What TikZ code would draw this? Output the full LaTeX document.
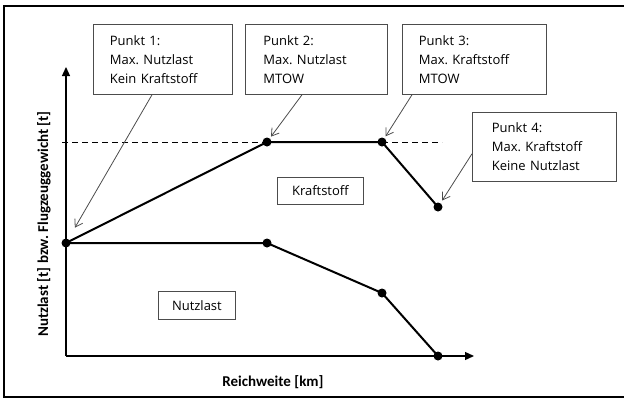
\documentclass[tikz,border=0pt]{standalone}
\usepackage{fontspec}
\setmainfont{Open Sans}
\newfontfamily\lblfont{Carlito}
\usetikzlibrary{arrows.meta,calc}
\frenchspacing
\begin{document}
\begin{tikzpicture}[x=1pt,y=-1pt,
 pbox/.style={draw=black!70, fill=white, line width=0.8pt, align=left, anchor=north west,
   inner xsep=0pt, inner ysep=0pt, font=\fontsize{13}{19}\selectfont},
 lbox/.style={draw=black!70, fill=white, line width=0.8pt, anchor=north west,
   inner sep=0pt, font=\fontsize{13}{19}\selectfont},
 dotnode/.style={circle, fill=black, inner sep=0pt, minimum size=9pt},
 curve/.style={line width=2pt},
 callout/.style={draw=black!70, line width=0.8pt, -{Straight Barb[length=7pt,width=9pt]}},
 axis/.style={line width=1.3pt, -{Triangle[length=9pt,width=8pt]}},
 axlabel/.style={font=\lblfont\bfseries\fontsize{15}{18}\selectfont},
 ]
\useasboundingbox (0,0) rectangle (624,399);
\draw[line width=1.5pt] (630,6) -- (4,6) -- (4,397) -- (630,397);

% axes
\coordinate (O) at (66,356);
\coordinate (ytop) at (66,67);
\coordinate (xend) at (474,356);
\draw[axis] (O) -- (ytop);
\draw[axis] (O) -- (xend);
\node[axlabel, rotate=90] (ylab) at (44,224) {Nutzlast [t] bzw. Flugzeuggewicht [t]};
\node[axlabel] (xlab) at (273,382) {Reichweite [km]};

% dashed MTOW line
\coordinate (dA) at (62,142);
\coordinate (dB) at (442,142);
\draw[dashed, dash pattern=on 6pt off 4pt, line width=0.9pt] (dA) -- (dB);

% points
\node[dotnode] (d1) at (66,243) {};
\node[dotnode] (d2) at (267,142) {};
\node[dotnode] (d3) at (382,142) {};
\node[dotnode] (d4) at (438,207) {};
\node[dotnode] (l2) at (267,243) {};
\node[dotnode] (l3) at (382,293) {};
\node[dotnode] (l4) at (438,356) {};

\draw[curve] (d1.center) -- (d2.center) -- (d3.center) -- (d4.center);
\draw[curve] (d1.center) -- (l2.center) -- (l3.center) -- (l4.center);

% boxes
\node[pbox, minimum width=139pt, minimum height=70pt, text width=128pt] (b1) at (93,24)
  {\hspace*{11pt}Punkt 1:\\\hspace*{11pt}Max. Nutzlast\\\hspace*{11pt}Kein Kraftstoff};
\node[pbox, minimum width=142pt, minimum height=70pt, text width=130pt] (b2) at (245,24)
  {\hspace*{12pt}Punkt 2:\\\hspace*{12pt}Max. Nutzlast\\\hspace*{12pt}MTOW};
\node[pbox, minimum width=144pt, minimum height=70pt, text width=133pt] (b3) at (402,24)
  {\hspace*{11pt}Punkt 3:\\\hspace*{11pt}Max. Kraftstoff\\\hspace*{11pt}MTOW};
\node[pbox, minimum width=144pt, minimum height=69pt, text width=131pt] (b4) at (472,112)
  {\hspace*{13pt}Punkt 4:\\\hspace*{13pt}Max. Kraftstoff\\\hspace*{13pt}Keine Nutzlast};
\node[lbox, minimum width=86pt, minimum height=27pt] (kr) at (277,177) {Kraftstoff};
\node[lbox, minimum width=77pt, minimum height=28pt] (nl) at (158,291) {Nutzlast};

% callouts
\draw[callout, shorten >=13pt] ($(b1.south west)+(59,0)$) -- (d1);
\draw[callout, shorten >=2pt] ($(b2.south west)+(57,0)$) -- (d2);
\draw[callout, shorten >=2pt] ($(b3.south west)+(10,0)$) -- (d3);
\draw[callout, shorten >=3pt] ($(b4.south west)+(0,-28)$) -- (d4);
\end{tikzpicture}
\end{document}
